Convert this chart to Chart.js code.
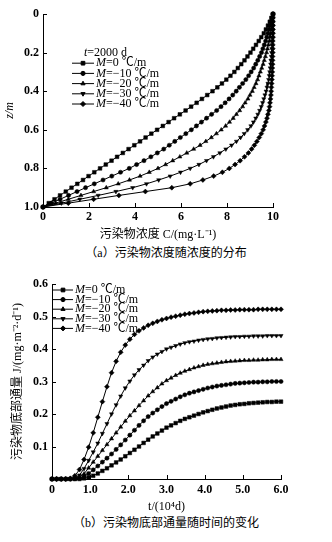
<!DOCTYPE html>
<html>
<head>
<meta charset="utf-8">
<script src="https://cdn.jsdelivr.net/npm/chart.js@4/dist/chart.umd.min.js"></script>
<style>
  body { margin: 0; background: #fff; }
  #wrap { position: relative; width: 332px; height: 542px; }
  canvas { position: absolute; left: 0; }
  .cap { position: absolute; left: 0; width: 332px; text-align: center;
         font: 12px "Liberation Serif", "Times New Roman", "Noto Sans CJK SC", serif; line-height: 14px; color: #000; }
</style>
</head>
<body>
<div id="wrap">
  <canvas id="chartA" width="332" height="242" style="top:0"></canvas>
  <div class="cap" style="top:246px">（a）污染物浓度随浓度的分布</div>
  <canvas id="chartB" width="332" height="252" style="top:262px"></canvas>
  <div class="cap" style="top:516px">（b）污染物底部通量随时间的变化</div>
</div>
<script>
'use strict';

// ************************* DATA (a): C over depth, t = 2000 d *************************
const depthZ = [0, 0.02, 0.04, 0.06, 0.08, 0.1, 0.12, 0.14, 0.16, 0.18, 0.2, 0.22, 0.24, 0.26, 0.28, 0.3,
  0.32, 0.34, 0.36, 0.38, 0.4, 0.42, 0.44, 0.46, 0.48, 0.5, 0.52, 0.54, 0.56, 0.58, 0.6, 0.62, 0.64, 0.66,
  0.68, 0.7, 0.72, 0.74, 0.76, 0.78, 0.8, 0.82, 0.84, 0.86, 0.88, 0.9, 0.92, 0.94, 0.96, 0.98, 1.0];
const concM0 = [10, 9.93, 9.86, 9.78, 9.69, 9.6, 9.49, 9.38, 9.26, 9.14, 9.02, 8.89, 8.76, 8.62, 8.47, 8.32,
  8.15, 7.97, 7.78, 7.58, 7.37, 7.14, 6.91, 6.68, 6.44, 6.2, 5.95, 5.7, 5.46, 5.21, 4.96, 4.71, 4.46, 4.22,
  3.97, 3.72, 3.47, 3.22, 2.98, 2.73, 2.48, 2.23, 1.98, 1.74, 1.49, 1.24, 0.99, 0.74, 0.5, 0.25, 0];
const concM10 = [10, 9.96, 9.92, 9.87, 9.83, 9.78, 9.73, 9.68, 9.62, 9.56, 9.5, 9.42, 9.34, 9.25, 9.16, 9.05,
  8.94, 8.82, 8.68, 8.54, 8.4, 8.25, 8.09, 7.92, 7.74, 7.55, 7.33, 7.11, 6.89, 6.67, 6.45, 6.21, 5.97, 5.73,
  5.49, 5.25, 4.97, 4.69, 4.39, 4.07, 3.75, 3.37, 2.99, 2.61, 2.23, 1.85, 1.48, 1.11, 0.74, 0.37, 0];
const concM20 = [10, 9.99, 9.97, 9.95, 9.93, 9.9, 9.87, 9.84, 9.8, 9.76, 9.72, 9.67, 9.62, 9.57, 9.51, 9.45,
  9.39, 9.33, 9.26, 9.18, 9.1, 9.0, 8.91, 8.79, 8.68, 8.55, 8.41, 8.27, 8.11, 7.94, 7.75, 7.54, 7.32, 7.08,
  6.83, 6.55, 6.25, 5.95, 5.64, 5.33, 5.0, 4.62, 4.22, 3.76, 3.27, 2.75, 2.2, 1.65, 1.1, 0.55, 0];
const concM30 = [10, 10, 9.99, 9.99, 9.98, 9.98, 9.97, 9.96, 9.96, 9.95, 9.94, 9.93, 9.91, 9.9, 9.88, 9.86,
  9.84, 9.81, 9.78, 9.74, 9.7, 9.65, 9.6, 9.55, 9.49, 9.42, 9.34, 9.25, 9.15, 9.04, 8.9, 8.75, 8.59, 8.41,
  8.2, 7.95, 7.69, 7.41, 7.11, 6.78, 6.4, 5.98, 5.53, 5.03, 4.5, 3.9, 3.17, 2.4, 1.6, 0.8, 0];
const concM40 = [10, 10, 10, 10, 10, 10, 10, 9.99, 9.99, 9.99, 9.99, 9.98, 9.98, 9.98, 9.97, 9.97,
  9.96, 9.95, 9.94, 9.93, 9.92, 9.91, 9.89, 9.87, 9.85, 9.82, 9.78, 9.74, 9.69, 9.63, 9.57, 9.49, 9.4, 9.3,
  9.19, 9.07, 8.93, 8.76, 8.57, 8.35, 8.1, 7.8, 7.42, 6.95, 6.4, 5.6, 4.45, 3.3, 2.2, 1.1, 0];

// ************************* DATA (b): bottom flux over time *************************
const timeT = [0, 0.12, 0.24, 0.36, 0.48, 0.6, 0.72, 0.84, 0.96, 1.08, 1.2, 1.32, 1.44, 1.56, 1.68, 1.8,
  1.92, 2.04, 2.16, 2.28, 2.4, 2.52, 2.64, 2.76, 2.88, 3.0, 3.12, 3.24, 3.36, 3.48, 3.6, 3.72, 3.84, 3.96,
  4.08, 4.2, 4.32, 4.44, 4.56, 4.68, 4.8, 4.92, 5.04, 5.16, 5.28, 5.4, 5.52, 5.64, 5.76, 5.88, 6.0];
const fluxM0 = [0, 0, 0, 0, 0, 0, 0, 0.002, 0.005, 0.01, 0.017, 0.025, 0.033, 0.042, 0.051, 0.06,
  0.07, 0.08, 0.09, 0.1, 0.111, 0.121, 0.131, 0.14, 0.149, 0.158, 0.165, 0.172, 0.179, 0.185, 0.19, 0.195,
  0.2, 0.205, 0.209, 0.213, 0.217, 0.22, 0.223, 0.226, 0.228, 0.23, 0.231, 0.233, 0.234, 0.235, 0.236,
  0.237, 0.237, 0.238, 0.238];
const fluxM10 = [0, 0, 0, 0, 0, 0.001, 0.003, 0.008, 0.017, 0.028, 0.04, 0.052, 0.064, 0.077, 0.091, 0.105,
  0.12, 0.135, 0.15, 0.165, 0.179, 0.192, 0.203, 0.213, 0.223, 0.232, 0.239, 0.246, 0.253, 0.259, 0.264,
  0.268, 0.272, 0.276, 0.28, 0.283, 0.286, 0.288, 0.29, 0.292, 0.294, 0.295, 0.296, 0.297, 0.298, 0.298,
  0.299, 0.299, 0.3, 0.3, 0.3];
const fluxM20 = [0, 0, 0, 0, 0, 0.001, 0.006, 0.016, 0.034, 0.052, 0.07, 0.088, 0.106, 0.124, 0.142, 0.16,
  0.178, 0.195, 0.21, 0.226, 0.241, 0.256, 0.269, 0.281, 0.293, 0.303, 0.311, 0.319, 0.326, 0.332, 0.337,
  0.342, 0.346, 0.35, 0.353, 0.355, 0.357, 0.359, 0.361, 0.362, 0.363, 0.364, 0.365, 0.365, 0.366, 0.366,
  0.367, 0.367, 0.368, 0.368, 0.368];
const fluxM30 = [0, 0, 0, 0, 0, 0.003, 0.012, 0.032, 0.057, 0.083, 0.11, 0.14, 0.17, 0.2, 0.228, 0.255,
  0.28, 0.301, 0.32, 0.336, 0.35, 0.364, 0.375, 0.384, 0.392, 0.4, 0.405, 0.41, 0.415, 0.419, 0.422,
  0.424, 0.427, 0.429, 0.431, 0.432, 0.434, 0.435, 0.436, 0.437, 0.438, 0.438, 0.439, 0.439, 0.44, 0.44,
  0.44, 0.441, 0.441, 0.441, 0.441];
const fluxM40 = [0, 0, 0, 0, 0.002, 0.01, 0.029, 0.06, 0.098, 0.142, 0.19, 0.238, 0.284, 0.327, 0.362, 0.39,
  0.412, 0.43, 0.445, 0.456, 0.465, 0.473, 0.479, 0.485, 0.49, 0.494, 0.498, 0.501, 0.504, 0.507, 0.509,
  0.511, 0.513, 0.515, 0.516, 0.517, 0.518, 0.519, 0.519, 0.52, 0.52, 0.521, 0.521, 0.521, 0.521, 0.522,
  0.522, 0.522, 0.522, 0.522, 0.522];

const legendLabels = ['0 ℃/m', '−10 ℃/m', '−20 ℃/m', '−30 ℃/m', '−40 ℃/m'];

// ************************ HELPERS ********************************
const SERIF = '"Liberation Serif", "Times New Roman", "Noto Sans CJK SC", serif';
Chart.defaults.font.family = SERIF;
Chart.defaults.color = '#000';

const markers = [
  { pointStyle: 'rect', pointRadius: 2.6, pointRotation: 0 },
  { pointStyle: 'circle', pointRadius: 2.1, pointRotation: 0 },
  { pointStyle: 'triangle', pointRadius: 2.4, pointRotation: 0 },
  { pointStyle: 'triangle', pointRadius: 2.4, pointRotation: 180 },
  { pointStyle: 'rectRot', pointRadius: 2.5, pointRotation: 0 }
];

const makeSets = (xs, ys, swap) => ys.map((vals, i) => ({
  data: vals.map((v, k) => swap ? { x: v, y: xs[k] } : { x: xs[k], y: v }),
  showLine: true,
  borderColor: '#000',
  borderWidth: 1,
  pointBackgroundColor: '#000',
  pointBorderColor: '#000',
  pointBorderWidth: 0.5,
  pointStyle: markers[i].pointStyle,
  pointRadius: markers[i].pointRadius,
  pointRotation: markers[i].pointRotation,
  clip: false
}));

// short tick marks pointing into the plot
const innerTicks = {
  id: 'innerTicks',
  afterDraw(chart) {
    const { ctx, chartArea, scales } = chart;
    ctx.save();
    ctx.strokeStyle = '#000';
    ctx.lineWidth = 1;
    ctx.beginPath();
    for (const t of scales.x.ticks) {
      const px = Math.round(scales.x.getPixelForValue(t.value)) + 0.5;
      ctx.moveTo(px, chartArea.bottom);
      ctx.lineTo(px, chartArea.bottom - 4);
    }
    for (const t of scales.y.ticks) {
      const py = Math.round(scales.y.getPixelForValue(t.value)) + 0.5;
      ctx.moveTo(chartArea.left, py);
      ctx.lineTo(chartArea.left + 4, py);
    }
    ctx.stroke();
    ctx.restore();
  }
};

// legend: line + marker, italic M
const seriesLegend = {
  id: 'seriesLegend',
  afterDraw(chart, args, opts) {
    const { ctx, chartArea } = chart;
    const x0 = chartArea.left + opts.left;
    let y = chartArea.top + opts.top;
    ctx.save();
    ctx.fillStyle = '#000';
    ctx.strokeStyle = '#000';
    ctx.textBaseline = 'middle';
    if (opts.header) {
      ctx.font = 'italic 12px ' + SERIF;
      ctx.fillText('t', x0 + 12, y);
      const w = ctx.measureText('t').width;
      ctx.font = '12px ' + SERIF;
      ctx.fillText(opts.header, x0 + 12 + w, y);
      y += opts.gap;
    }
    chart.data.datasets.forEach((ds, i) => {
      ctx.lineWidth = 1;
      ctx.beginPath();
      ctx.moveTo(x0, y);
      ctx.lineTo(x0 + opts.lineLen, y);
      ctx.stroke();
      Chart.helpers.drawPoint(ctx, {
        pointStyle: ds.pointStyle, radius: ds.pointRadius, rotation: ds.pointRotation, borderWidth: 0.5
      }, x0 + opts.lineLen / 2, y);
      const tx = x0 + opts.lineLen + 2;
      ctx.font = 'italic 12px ' + SERIF;
      ctx.fillText('M', tx, y);
      const w = ctx.measureText('M').width;
      ctx.font = '12px ' + SERIF;
      ctx.fillText('=' + legendLabels[i], tx + w, y);
      y += opts.gap;
    });
    ctx.restore();
  }
};

const tickFont = { family: SERIF, size: 12, weight: 'bold' };
const titleFont = { family: SERIF, size: 12 };

// **************** CHART (a) *************************
new Chart(document.getElementById('chartA'), {
  type: 'scatter',
  data: { datasets: makeSets(depthZ, [concM0, concM10, concM20, concM30, concM40], true) },
  options: {
    responsive: false,
    animation: false,
    layout: { padding: { left: 0, right: 59, top: 14, bottom: 0 } },
    plugins: {
      legend: { display: false },
      tooltip: { enabled: false },
      seriesLegend: { left: 29, top: 39, gap: 10.2, lineLen: 22, header: '=2000 d' }
    },
    scales: {
      x: {
        type: 'linear', min: 0, max: 10,
        grid: { display: false, drawTicks: false },
        border: { display: true, color: '#000', width: 1 },
        ticks: { stepSize: 2, padding: 3, font: tickFont, maxRotation: 0 },
        title: { display: true, text: '污染物浓度 C/(mg·L⁻¹)', font: titleFont, padding: { top: 2, bottom: 0 } },
        afterFit: (scale) => { scale.height = 35; }
      },
      y: {
        type: 'linear', min: 0, max: 1, reverse: true,
        grid: { display: false, drawTicks: false },
        border: { display: true, color: '#000', width: 1 },
        ticks: { stepSize: 0.2, padding: 4, font: tickFont, callback: (v) => v === 0 ? '0' : v.toFixed(1) },
        title: { display: true, text: 'z/m', font: { family: SERIF, size: 12, style: 'italic' }, padding: { top: 3, bottom: 0 } },
        afterFit: (scale) => { scale.width = 43; }
      }
    }
  },
  plugins: [innerTicks, seriesLegend]
});

// **************** CHART (b) *************************
new Chart(document.getElementById('chartB'), {
  type: 'scatter',
  data: { datasets: makeSets(timeT, [fluxM0, fluxM10, fluxM20, fluxM30, fluxM40], false) },
  options: {
    responsive: false,
    animation: false,
    layout: { padding: { left: 0, right: 51, top: 22, bottom: 0 } },
    plugins: {
      legend: { display: false },
      tooltip: { enabled: false },
      seriesLegend: { left: 1, top: 6, gap: 9.6, lineLen: 20 }
    },
    scales: {
      x: {
        type: 'linear', min: 0, max: 6,
        grid: { display: false, drawTicks: false },
        border: { display: true, color: '#000', width: 1 },
        ticks: { stepSize: 1, padding: 4, font: tickFont, maxRotation: 0, callback: (v) => v === 0 ? '0' : v.toFixed(1) },
        title: { display: true, text: 't/(10⁴d)', font: titleFont, padding: { top: 2, bottom: 0 } },
        afterFit: (scale) => { scale.height = 35; }
      },
      y: {
        type: 'linear', min: 0, max: 0.6,
        grid: { display: false, drawTicks: false },
        border: { display: true, color: '#000', width: 1 },
        ticks: { stepSize: 0.1, padding: 4, font: tickFont, callback: (v) => v === 0 ? '' : v.toFixed(1) },
        title: { display: true, text: '污染物底部通量 J/(mg·m⁻²·d⁻¹)', font: titleFont, padding: { top: 11, bottom: 0 } },
        afterFit: (scale) => { scale.width = 52; }
      }
    }
  },
  plugins: [innerTicks, seriesLegend]
});
</script>
</body>
</html>
